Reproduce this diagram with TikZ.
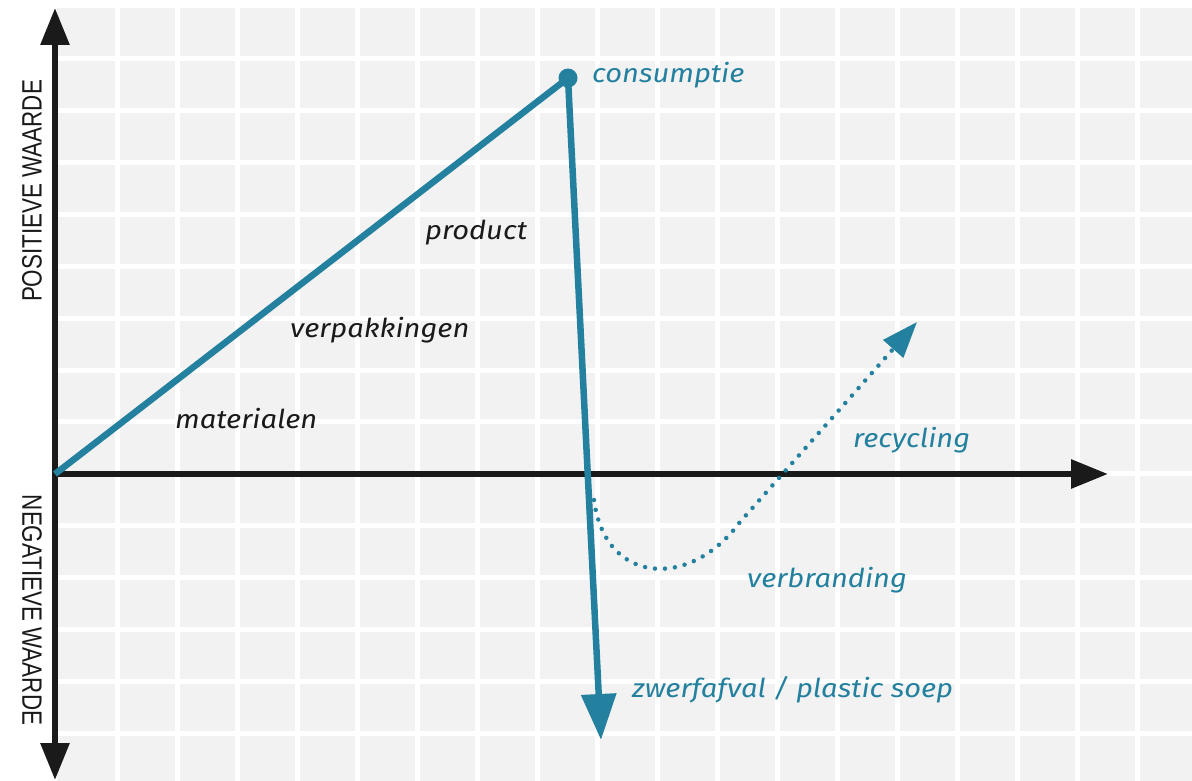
\documentclass[tikz,border=0pt]{standalone}
\usepackage{fontspec}
\usetikzlibrary{arrows.meta}
\newfontfamily\lblfont{Fira Sans}[FakeStretch=1.12]
\newfontfamily\axisfont{Liberation Sans}[FakeStretch=0.8]
\definecolor{plasticblue}{HTML}{23809E}
\definecolor{gridgray}{HTML}{F2F2F2}
\definecolor{inkblack}{HTML}{1A1A1A}
\tikzstyle{axis} = [inkblack, line width=6pt, -{Triangle[length=37pt,width=28pt]}]
\tikzstyle{flow} = [plasticblue, line width=6.5pt, line join=round]
\tikzstyle{dotflow} = [plasticblue, line width=4.5pt, line cap=round, dash pattern=on 0pt off 10pt]
\tikzstyle{tag} = [inner sep=0pt, anchor=base west, font=\lblfont\itshape\fontsize{26}{30}\selectfont]
\tikzstyle{axislabel} = [inner sep=0pt, text=inkblack, font=\axisfont\fontsize{28}{32}\selectfont]

\begin{document}
\begin{tikzpicture}[x = 1pt, y = -1pt]
\useasboundingbox (0,0) rectangle (1192,781);

% ----------------------------------------------------
% background grid
\fill[gridgray] (57,8) rectangle (1192,781);
\foreach \i in {0,...,17}
  \draw[white, line width=5pt] ({117.5+60*\i},8) -- ({117.5+60*\i},781);
\foreach \j in {0,...,13}
  \draw[white, line width=5pt] (57,{59+51.85*\j}) -- (1192,{59+51.85*\j});

% ----------------------------------------------------
% axes
\coordinate (origin) at (55,474);
\coordinate (ytop) at (55,8);
\coordinate (ybottom) at (55,780);
\coordinate (xright) at (1108,474);

\draw[axis] (origin) -- (ytop);
\draw[axis] (origin) -- (ybottom);
\draw[axis] (origin) -- (xright);

\node (pos) [axislabel, rotate=90] at (32,191) {POSITIEVE WAARDE};
\node (neg) [axislabel, rotate=-90] at (32,610) {NEGATIEVE WAARDE};

% ----------------------------------------------------
% value line
\node (consumptie) [circle, fill=plasticblue, minimum size=19pt, inner sep=0pt] at (568,78) {};
\coordinate (soep) at (601,740);
\draw[flow, -{Triangle[length=46pt,width=34pt]}] (origin) -- (consumptie.center) -- (soep);

% after use
\coordinate (afval) at (594,500);
\coordinate (recycled) at (917,322);
\draw[dotflow, -{Triangle[length=36pt,width=26pt]}] (afval)
  .. controls (605,585) and (690,590) .. (740,522) -- (recycled);

% ----------------------------------------------------
% labels
\node (consumptielabel) [tag, text=plasticblue] at (592,83) {consumptie};
\node (product) [tag, text=inkblack] at (425,240) {product};
\node (verpakkingen) [tag, text=inkblack] at (290,337) {verpakkingen};
\node (materialen) [tag, text=inkblack] at (175,428) {materialen};
\node (recycling) [tag, text=plasticblue] at (853,447) {recycling};
\node (verbranding) [tag, text=plasticblue] at (747,587) {verbranding};
\node (zwerfafval) [tag, text=plasticblue] at (632,697) {zwerfafval / plastic soep};

\end{tikzpicture}
\end{document}
